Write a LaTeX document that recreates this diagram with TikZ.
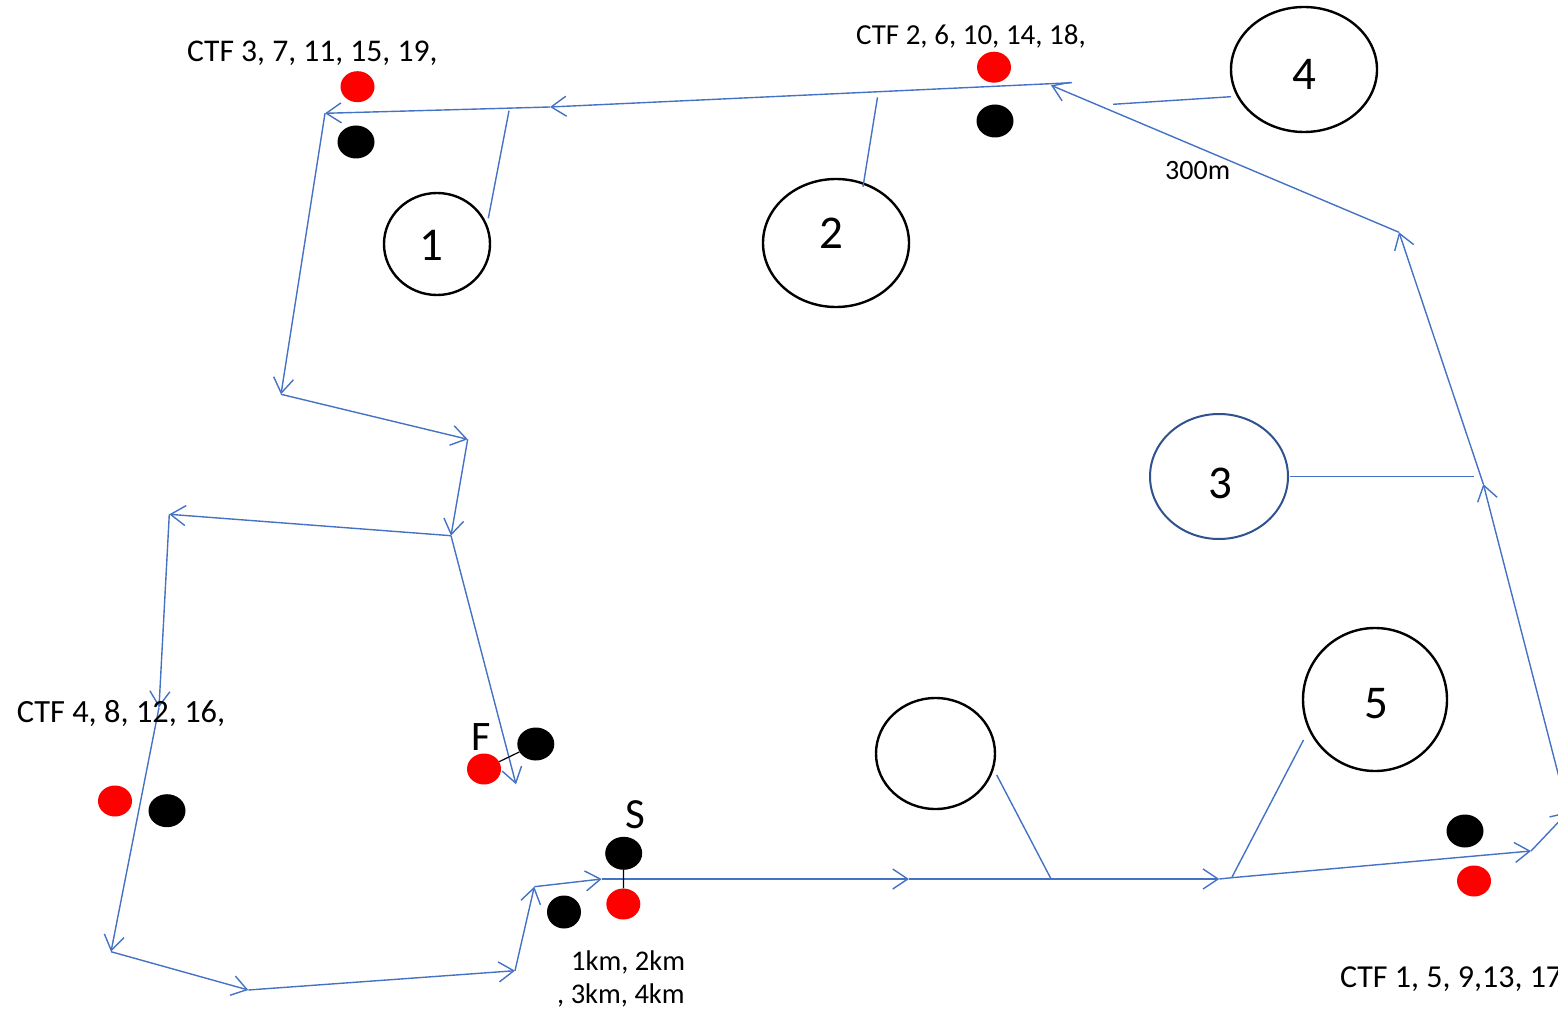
\documentclass[tikz,border=0pt]{standalone}
\usepackage{fontspec}
\setmainfont{Carlito}
\usetikzlibrary{arrows.meta,shapes.geometric}
\definecolor{routeblue}{HTML}{4472C4}
\definecolor{navyline}{HTML}{2F528F}
\definecolor{dotred}{HTML}{FF0000}
\begin{document}
\begin{tikzpicture}[x=1pt,y=-1pt,
  route/.style={draw=routeblue,line width=1.4pt},
  rarrow/.style={route,-{Straight Barb[length=15pt,width=20pt]}},
  link/.style={draw=routeblue,line width=1.4pt},
  site/.style={ellipse,draw=black,line width=2.4pt,inner sep=0pt,fill=white},
  reddot/.style={ellipse,fill=dotred,inner sep=0pt,minimum width=34pt,minimum height=31pt},
  blackdot/.style={ellipse,fill=black,inner sep=0pt,minimum width=37pt,minimum height=33pt},
  txt/.style={inner sep=0pt,anchor=base west},
  num/.style={inner sep=0pt,anchor=base,font=\fontsize{47}{47}\selectfont},
  tie/.style={draw=black,line width=1.2pt}
]
\useasboundingbox (0,0) rectangle (1558,1011);
\clip (0,0) rectangle (1558,1011);

% route waypoints
\coordinate (s0) at (601.7,879);
\coordinate (s1) at (909,879);
\coordinate (s2) at (1219.3,879);
\coordinate (s3) at (1231.7,877.7);
\coordinate (s4) at (1531,851);
\coordinate (s5) at (1568,812);
\coordinate (s6) at (1483.3,484);
\coordinate (s7) at (1399,232.3);
\coordinate (s8) at (1051,85.3);
\coordinate (t0) at (1072,82.7);
\coordinate (t1) at (550,107);
\coordinate (t2) at (325,113.3);
\coordinate (w1) at (281,394.3);
\coordinate (w2) at (467.7,439.3);
\coordinate (w3) at (451,535.7);
\coordinate (w4) at (169.3,514.3);
\coordinate (w5) at (159,707.5);
\coordinate (w6) at (111,951.7);
\coordinate (w7) at (248.3,990);
\coordinate (w8) at (515,970.7);
\coordinate (w9) at (534.3,886.7);
\coordinate (f0) at (516,784.3);

% route
\draw[rarrow] (s0) -- (s1);
\draw[rarrow] (s1) -- (s2);
\draw[route] (s2) -- (s3);
\draw[rarrow] (s3) -- (s4);
\draw[rarrow] (s4) -- (s5);
\draw[rarrow] (s5) -- (s6);
\draw[rarrow] (s6) -- (s7);
\draw[rarrow] (s7) -- (s8);
\draw[rarrow] (t0) -- (t1);
\draw[rarrow] (t1) -- (t2);
\draw[rarrow] (t2) -- (w1);
\draw[rarrow] (w1) -- (w2);
\draw[rarrow] (w2) -- (w3);
\draw[rarrow] (w3) -- (w4);
\draw[rarrow] (w4) -- (w5);
\draw[rarrow] (w5) -- (w6);
\draw[rarrow] (w6) -- (w7);
\draw[rarrow] (w7) -- (w8);
\draw[rarrow] (w8) -- (w9);
\draw[rarrow] (w9) -- (s0);
\draw[rarrow] (w3) -- (f0);

% sites
\node[site,minimum width=106pt,minimum height=102pt] (c1) at (437,244) {};
\node[site,minimum width=146pt,minimum height=128pt] (c2) at (836,243) {};
\node[site,minimum width=146pt,minimum height=125pt] (c4) at (1304,69.5) {};
\node[site,draw=navyline,line width=2pt,minimum width=138pt,minimum height=125pt] (c3) at (1219,476.5) {};
\node[site,minimum width=119pt,minimum height=111pt] (c0) at (935.5,753.5) {};
\node[site,minimum width=144pt,minimum height=143pt] (c5) at (1375,699.5) {};

\node[num] (n1) at (431,261) {1};
\node[num] (n2) at (831,248) {2};
\node[num] (n3) at (1220,498) {3};
\node[num] (n4) at (1304,90) {4};
\node[num] (n5) at (1376,718) {5};

% connectors from sites to the route
\coordinate (a1) at (488.3,218.3); \coordinate (b1) at (509,110.7);
\coordinate (a2) at (863,186.7);   \coordinate (b2) at (877.5,97.3);
\coordinate (a4) at (1231,96.7);   \coordinate (b4) at (1113,104.3);
\coordinate (a3) at (1290,476.7);  \coordinate (b3) at (1474.3,476.7);
\coordinate (a0) at (996.7,775);   \coordinate (b0) at (1050.7,878.3);
\coordinate (a5) at (1303.5,740);
\draw[link] (a1) -- (b1);
\draw[link] (a2) -- (b2);
\draw[link] (a4) -- (b4);
\draw[link] (a3) -- (b3);
\draw[link] (a0) -- (b0);
\draw[link] (a5) -- (s3);

% dots
\node[reddot] (r1) at (357.5,86.7) {};
\node[blackdot] (k1) at (356,142) {};
\node[reddot] (r2) at (994,67.2) {};
\node[blackdot] (k2) at (995,121) {};
\node[reddot] (r3) at (115,801) {};
\node[blackdot] (k3) at (167,810.7) {};
\node[reddot] (rf) at (484,769) {};
\node[blackdot] (kf) at (535.8,744) {};
\node[blackdot] (ks) at (623.7,853.3) {};
\node[reddot] (rs) at (623.3,904) {};
\node[blackdot,minimum width=34pt,minimum height=33pt] (k4) at (564,912) {};
\node[blackdot] (k5) at (1465,831) {};
\node[reddot] (r5) at (1474,881) {};
\draw[tie] (rf) -- (kf);
\draw[tie] (ks) -- (rs);

% texts
\node[txt,font=\fontsize{31.6}{31.6}\selectfont] (l1) at (187,62) {CTF 3, 7, 11, 15, 19,};
\node[txt,font=\fontsize{29}{29}\selectfont] (l2) at (856,45) {CTF 2, 6, 10, 14, 18,};
\node[txt,font=\fontsize{32.4}{32.4}\selectfont] (l3) at (16.7,722.7) {CTF 4, 8, 12, 16,};
\node[txt,font=\fontsize{32}{32}\selectfont] (l4) at (1340,987) {CTF 1, 5, 9,13, 17};
\node[txt,font=\fontsize{28}{28}\selectfont] (l5) at (1165,180) {300m};
\node[txt,font=\fontsize{28.5}{28.5}\selectfont] (l6) at (571,970) {1km, 2km};
\node[txt,font=\fontsize{28.5}{28.5}\selectfont] (l7) at (557,1003) {, 3km, 4km};
\node[txt,font=\fontsize{42}{42}\selectfont] (lf) at (471,750) {F};
\node[txt,font=\fontsize{43}{43}\selectfont] (ls) at (625,828) {S};
\end{tikzpicture}
\end{document}
